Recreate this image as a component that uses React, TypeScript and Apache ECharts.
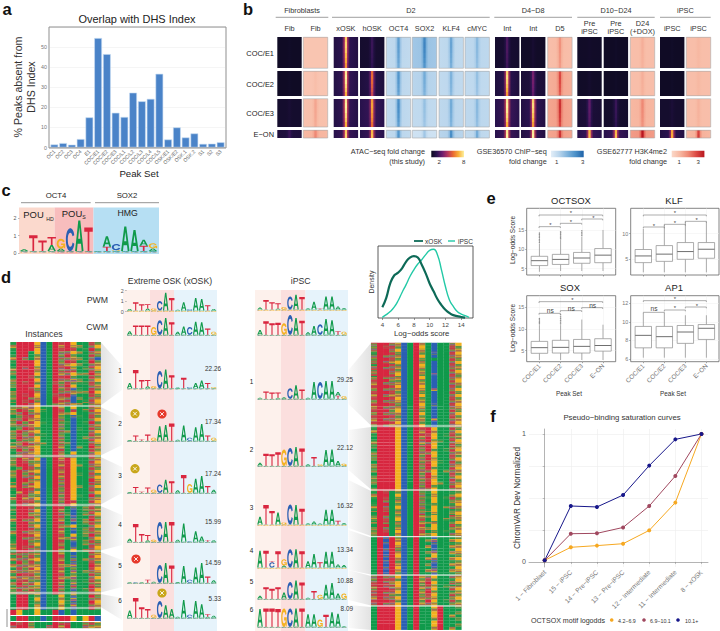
import React, { useEffect, useRef } from "react";
import * as echarts from "echarts";

const FONT = "Liberation Sans";
const TEXT_SCALE = 1.18;

// ---------- panel a
const DHS_LABELS = ["OC1","OC2","OC3","OC4","E1","COC/E1","COC/E2","COC/E3","COC/L1","COC/L2","COC/L3","COC/L4","COC/L5","OSK/E1","OSK/E2","OSK.1","OSK.2","S1","S2","S3"];
const DHS_VALUES = [1.5,2.2,1.4,4.2,15,54.5,46.5,17.3,15.2,27.3,23,24.2,36.7,4,10,5,7,1.8,1.9,2.6];

// ---------- panel b: [background, centre] intensity per column (rows: E1, E2, E3, E-ON)
const HEAT_KINDS = ["atac","red","atac","atac","blue","blue","blue","blue","atac","atac","red","atac","atac","red","atac","red"];
const HEAT_FIB_A = [[.02,.03],[.02,.03],[.05,.07],[.1,.2]];
const HEAT_FIB_R = [[.15,.15],[.15,.2],[.18,.35],[.25,.5]];
const HEAT_XOSK = [[.12,.9],[.13,.98],[.13,.98],[.15,.9]];
const HEAT_HOSK = [[.05,.2],[.1,.65],[.15,.78],[.15,.85]];
const HEAT_OCT4 = [[.2,.65],[.2,.7],[.2,.75],[.2,.7]];
const HEAT_SOX2 = [[.35,.8],[.25,.55],[.2,.4],[.12,.35]];
const HEAT_KLF4 = [[.2,.6],[.2,.5],[.22,.55],[.25,.75]];
const HEAT_CMYC = [[.22,.45],[.2,.4],[.22,.45],[.2,.55]];
const HEAT_INT1 = [[.05,.25],[.1,.92],[.15,.98],[.15,.98]];
const HEAT_INT2 = [[.03,.06],[.08,.35],[.12,.92],[.12,.98]];
const HEAT_D5 = [[.2,.45],[.3,.75],[.35,.85],[.35,.85]];
const HEAT_PRE1 = [[.03,.04],[.03,.05],[.07,.3],[.15,.85]];
const HEAT_PRE2 = [[.02,.03],[.02,.03],[.04,.2],[.15,.85]];
const HEAT_D24 = [[.2,.3],[.2,.3],[.25,.5],[.4,1]];
const HEAT_IPSC1 = [[.02,.03],[.02,.03],[.05,.08],[.12,.8]];
const HEAT_IPSC2 = [[.2,.25],[.2,.25],[.2,.28],[.25,.8]];
const HEAT_TABLE = [HEAT_FIB_A,HEAT_FIB_R,HEAT_XOSK,HEAT_HOSK,HEAT_OCT4,HEAT_SOX2,HEAT_KLF4,HEAT_CMYC,HEAT_INT1,HEAT_INT2,HEAT_D5,HEAT_PRE1,HEAT_PRE2,HEAT_D24,HEAT_IPSC1,HEAT_IPSC2];
const PEAK_ROWS = ["COC/E1","COC/E2","COC/E3","E−ON"];

// ---------- logos: a stack per position, bottom to top, letter + information bits
const LOGO_C = ["A.1","T.9","T.6","A.35T.45","A.15G.55","C1.3","A1.75","T1.35",".","T.25A.6","G.05C.35","A1.4","A1.2","T.3A.35","A.15G.3"];
const X_PWM = ["A.15","T.8","T.6","A.2T.4","G.2","C.9","A1.7","T1.2","A.08","A.8","C.12","A1.2","A1.1","T.5","A.15"];
const X_CWM = ["A.35","T.9","T.9","T.9","G.75","C1.4","A1.6","T1.2","A.3","A.8","C.75","A1.25","A1.2","T.6","G.3"];
const X_1 = ["A.5","T1.75","T.8","A.2T.6","G.2","C1.65","A1.8","T1.25","A.08","T1","C.1","A.5","A.75","T.5","G.1"];
const X_2 = ["A.07","T.5","T.12","T.6","G.3","A1.4","A1.5","T1.65","A.1","A1.45","C.3","A1.3","A1.6","T.5","G.3"];
const X_3 = ["A.07","T.55","T.1","T.5","G.3","C.8","A1.25","T1.1","A.25","T1.7","G.85","A1.35","A1.6","T.65","A.3"];
const X_4 = ["A.3","T1.7","T.75","A.15T.5","G.2","C1.9","A1.9","T1.9","A.2","A1.75","C.05","A1","A.5","T.15","A.15"];
const X_5 = ["A.05","C.05","A.05","T.3","A.1","C1.7","A1.9","T1.65","A.08","A1.6","C.3","A1.45","A1.9","T.6","A.25"];
const X_6 = ["A.7","T1.9","T1","T.85","G.3","C1.6","A1.2","A.85","A.1","A1.7","C.3","A1.6","A1.3","A.1T.25","A.2"];
const I_PWM = ["A.2","T.9","T.7","A.1T.5","G.25","C1.25","A1.4","T1.2","A.12","A.75","T.1","A1.25","A1.25","A.3","A.15"];
const I_CWM = ["A.45","T1.3","T1.1","T1.15","G1.1","C1.9","A1.6","T1.35","A.25","A.85","C1","A1.5","A1.4","T.35","G.3"];
const I_1 = ["A.1","T.7","T.6","A.1T.5","A.15","C1","A1.3","T.9","A.1","A1.6","C1.6","A1.7","A1.7","T.3A.35","G.25"];
const I_2 = ["A.3","T1.15","T1.1","T1.3","G1.55","C1.7","A1.8","T1.65","A.15","T.85","G.15","A1.5","A1.55","A.45","G.2"];
const I_3 = ["A.75","T1.85","T1.3","A1.15","G.2","C1.9","A1.85","T1.5","A.12","A.3","A.1","A1.4","A1.4","T.35","A.15"];
const I_4 = ["A1.6","T1.6","C.5T.1","T1.55","A.2G.6","C1.75","A1.75","T1.55","A.6","A1.3","T.5","A1.5","A1.5","A.3","A.25"];
const I_5 = ["A.3","T1.1","T.95","T1.1","A.6","C1.6","A1.75","T1.55","A.1","T.75","G.4","A1.35","A1.5","A.5","G.5"];
const I_6 = ["A1.7","T1.75","T1.75","T1.7","G1.75","C1.75","A1.75","T1.75","A1.2","A1.2","G.7","T1.15","A1.4","A1.25","A.05"];

// ---------- instances: one string per row, one code per motif position
const INST_X = [
"zTTTGCATyTGAAyx","xTTTxCATxTxzAyG","zTTTGCATyTyAzTx","ATTAGCATyyGzAyx","zTTAxCATxTxAAyx","xTyAxCATyyxzAyC","zTTTGCATxTyAzTx",
"ATTTGCATyxGzAyx","zTyTxCATyTxAzyG","xTTTxCATyyyAAyx","zTTTGCATxyGzzTx","ATTyxCATyTxAAyx","zTTTGCATyywzAyG","xTyTxCAyxyxzzyx",
"zTTTGCATyTGAAyx","ATTyxCATxywzAyx","zTTTxCATyyxzzTG","xTyTGCAyyTwAAyx","zTTyxCATxyCzAyx","zTyTxCATyyCAzyG","ATTyGCAyxyxzAyx",
"zyxyGAATxAGAAyx","xTyxGzATyAyAzyG","zyTyxAATxzGAAyx","AxyyGAATxAwzAyx","zyTxxAATyACAAyG","xTxyGzATxzCAzTx","zyyxGAATyACAAyx","AxTyxAATxACzAyx",
"zTyxGAATyzCAAyG","xyxyxzATxACAAyx","zTyyGAATyACAzyx","AyxxGAATxACAAyG","zxTyxzATyzCAAyx","xyyxGAATxACzATx","zTxyGAATyACAAyx","AyyxGAATxAGAAyG","zxTyxAATyzwAAyx",
"zTxyGCATxTGAAyx","xTyxxCATyTGAAyG","zTTyGCATxTGzAyx","AxTyxCATyTGAAyx","zTyxGCATxTGAAyG","xTxyxCATyTGzAyx","zTyyGCATxTGAAyG","ATTxxCATyTGAATx",
"zTxyGCATxTGAAyx","xTyxGCATyTGzAyG","zTTyxCATxTGAAyx","AxTyGCATyTGAAyG","zTyxxCATxTGzATx","xTxyGCATyTGAAyx","zTyyxCATxTyAAyG","ATyxGCATyTGAAyx",
"zTTyxCATyAwAxyx","zTTyGCATxACAzyx","ATTxxCATyzCAxyG","zTTyxCATyAwAAyx","xTyyGCATxAwAzTx","zTTxxCATyACAxyx","ATTyGCATxzGAAyG","zTTyxCATyAwAxyx",
"xTyxxCATxACAzyx","zTTyGCATyAGAxTx","ATyyxCATxzwAAyG","zTTxxCATyAwAxyx","zTTyGCATxACAzyx","xTyyxCATyAwAAyG","zTTyxCATxAGAxyx",
"xyyxxCATxACAAyx","zyxyxCATyAwAAyG","xyyxGCATxAyAzyx","zTxyxCATyAwAAyx","xyyxxCATxzwAATx","zyxyGCATyAxAAyG","xyyxxCATxAwAzyx","zTyyxCATyAxAAyx",
"xyxyxCATxzwAAyG","zyyxxCATyAxAzyx","xTxyGCATxAwAAyx","zyyxxCATyAyAATx","xyxyxCATxAwAzyG","zyyxxCATyAxAAyx",
"ATTAxCAAGAwAATx","ATTAGCAAxAwAAyx","ATTAxCAAGzwAATG","ATTAxCAAxAwAAyx","ATTAGCAAGAwAATx",
"TGAAGAATCACAAAA","TGAAGAATCACAAAA",
"ATTAACATTTGAGTC","ATTAACATTTGAGTC",
"TyTxAAATyyAAxyx","yTTxAAyTxTAAyxx",
];
const INST_I = [
"yTTyxCATxACAAyG","xTyyxCATGACAAyx","yTTyGCATxACAAyx","zTTyxCATxAwAAyG","yTyyxCATGACAAyx","xTTyxCATxAAAAyx","yTyxGCATxACAAyG",
"zTTyxCATGACAAyx","yTyyxCATxACAAyx","xTTyxCATxACAAyG","yTTyGCATxAwAAyx","zTyyxCATGACAAyx","yTTxxCATxACAAyG","xTyyxCATxACAAyx",
"yTTyGCATGACAAyx","zTyyxCATxAwAAyG","yTTyxCATxACAAyx","xTyxxCATGACAAyG","yTTyGCATxACAAyx","zTyyxCATxACAAyx","yTTyxCATGAwAAyG",
"xTyyxCATxACAAyx","yTTxGCATxACAAyx","zTyyxCATGACAAyG","yTTyxCATxACAAyx","xTyyxCATxAwAAyx","yTTyGCATxACAAyG","zTyxxCATGACAAyx",
"zTTTGCATyTGAAyx","xTTTGCATxTxAAyG","zTTTGCATyyGAzyx","ATTTGCATxTGAAyx","zTTTGCATyTxzAyG","xTTTGCATxyGAAyx","zTTTGCATyTGAAyx",
"ATTTGCATxTxAzyG","zTTTGCATyyGAAyx","xTTTGCATxTGAAyx","zTTTGCATyTxAAyG","ATTTGCATxyGzAyx","zTTTGCATyTGAAyx","xTTTGCATxTxAAyG",
"zTTTGCATyyGAzyx","ATTTGCATxTGAAyx","zTTTGCATyTxAAyG","xTTTGCATxyGAAyx","zTTTGCATyTGzAyx","ATTTGCATxTxAAyG","zTTTGCATyyGAAyx",
"zTyAxCATxzGAAzx","xTTAGCATyAxAAzG","zTyAxCATxzGAzyx","ATyAxCATyAGAAzx","zTTAxCATxzxAAzG","xTyAGCATyAGAzyx","zTyAxCATxzGAAzx","ATTAxCATyAxAAzG",
"zTyAxCATxzGAAyx","xTyAGCATyAGAzzx","zTyAxCATxzxAAzG","ATTAxCATyAGAAyx","zTyAxCATxzGAAzx","xTyAGCATyAxAzzG","zTTAxCATxzGAAyx",
"ATwTxCATAAwAAzx","ATCTxCATAzwAAxG","ATwTGCATAAwAAzx","ATCTxCATAxCAAxx","ATwTxCATAAwAAzG","ATCTxCATAzwAAxx","ATwTGCATAAGAAzx",
"ATCTxCATAxwAAxG","ATwTxCATAAwAAzx","ATCTxCATAzCAAxx","ATwTGCATAAwAAzG","ATCTxCATAxwAAxx","ATwTxCATAAwAAzx",
"yTyyGCATxyGAAyx","xTyyxCATxyxAAzG","yTyxGCATxTGAAyx","yTyyGCATxyxAzzx","xTTyxCATxyGAAyG","yTyyGCATxTxAAzx","yTyxxCATxyGAAyx",
"xTyyGCATxyxAAzG","yTTyxCATxTGAzyx","yTyyGCATxyxAAzx",
"ATTTGCATAAGTAAx","ATTTGCATAAxTAAA","ATTTGCATAAGTAAx","ATTTGCATAAGTAxA","ATTTGCATAAxTAAx","ATTTGCATAAGTAAA","ATTTGCATAAGTAAx","ATTTGCATAAxTAxA",
];

// ---------- panel d: density curves
const DENS_X_OSK = [[4,.15],[4.5,.28],[5,.48],[5.5,.59],[6,.63],[6.5,.69],[7,.78],[7.5,.84],[8,.86],[8.5,.84],[9,.74],[9.5,.62],[10,.48],[10.5,.37],[11,.26],[11.5,.18],[12,.115],[12.5,.07],[13,.04],[14,.014],[14.5,.005]];
const DENS_IPSC = [[4,.01],[4.5,.046],[5,.09],[5.5,.15],[6,.24],[6.5,.355],[7,.46],[7.5,.576],[8,.67],[8.5,.75],[9,.81],[9.5,.88],[10,.94],[10.5,.954],[11,.876],[11.5,.668],[12,.438],[12.5,.253],[13,.16],[13.5,.09],[14,.055],[14.5,.032],[15,.01]];

// ---------- panel e: [low, q1, median, q3, high]
const BOX_CATS = ["COC/E1","COC/E2","COC/E3","E−ON"];
const BOX_OCTSOX = [[4.2,5.8,7.07,8.2,11.5],[4.4,6.1,7.4,8.7,12.4],[4.4,6.4,7.76,9.2,13.3],[4.4,6.55,8.5,10.2,15]];
const BOX_KLF = [[2.47,4.35,5.65,6.9,10.9],[2.47,4.6,6,7.66,11.7],[2.47,5,6.5,8.25,12.3],[2.47,5.2,6.95,8.25,12.3]];
const BOX_SOX = [[2.85,4.4,5.7,7.15,10.9],[2.85,4.46,5.77,7.4,10.9],[2.85,4.46,6,7.6,12.2],[2.85,4.9,6.2,7.77,11]];
const BOX_AP1 = [[6.14,7.2,8.54,9.5,10.9],[6.14,7.2,8.4,9.5,10.9],[6.14,7.68,8.9,9.6,10.7],[6.14,8.1,9.3,9.7,10.7]];
const OUT_OCTSOX = [[1,11.8],[1,12.2],[1,12.6],[1,13],[1,13.4],[1,13.8],[1,14.2],[2,12.7],[2,13],[2,13.4],[2,13.8],[2,14.2],[2,14.5],[3,13.6],[3,14],[3,14.4],[3,14.8]];
const OUT_SOX = [[1,11.2],[1,11.5],[1,11.8],[1,12.1],[1,12.4],[2,11.2],[2,11.6],[2,12],[2,12.4],[2,12.8],[2,13.3]];

// ---------- panel f
const SAT_LABELS = ["1 − Fibroblast","15 − iPSC","14 − Pre−iPSC","13 − Pre−iPSC","12 − Intermediate","11 − Intermediate","8 − xOSK"];
const SAT_LOW = [.013,.115,.128,.143,.247,.464,1];
const SAT_MID = [.013,.221,.224,.27,.4375,.672,1];
const SAT_HIGH = [.013,.4375,.43,.523,.753,.958,1];

// ---------- layout and style (not data)
const COL_X = [277.3,303.3,333.7,360,386.3,412.3,439,465,495,521,547.7,577.3,603.7,630.3,660,686.3];
const COL_W = 24.4;
const ROW_TOP = [37.3,71.3,98.7,130.3];
const ROW_H = [31,24.4,28.3,7.7];
const SUB_FADE = [1,1.03,1,.95,.9,.82];
const STOP_AT = [0,.34,.44,.47,.53,.56,.66,1];
const STOP_WEIGHT = [0,.06,.45,1,1,.45,.06,0];
const RAMPS: any = {
  atac: ["#0c0a1f","#2a1350","#6c1d6e","#b5365e","#ea6b32","#f9b13a","#fdf0a0"],
  blue: ["#e3eef8","#b9d5ec","#7fb3dc","#4a90c8","#1f62a8"],
  red: ["#fbd8c8","#f7b8a2","#ef8a76","#dc4a44","#b8161f"],
};
const LETTER_COLORS: any = { A: "#109a4b", C: "#2a5fb3", G: "#f4b221", T: "#d9263f" };
const GLYPHS: any = {
  T: "M0 0H100V18H60V100H40V18H0Z",
  A: "M38 0H62L100 100H78L70 76H30L22 100H0Z M50 22L37 60H63Z",
  C: "M95 30C90 10 70 0 50 0C20 0 0 22 0 50C0 78 20 100 50 100C72 100 90 88 96 68L76 62C72 74 62 81 50 81C32 81 22 67 22 50C22 33 32 19 50 19C62 19 71 25 75 35Z",
  G: "M95 30C90 10 70 0 50 0C20 0 0 22 0 50C0 78 20 100 50 100C65 100 78 94 86 84L88 98H100V48H52V65H80C78 74 66 81 50 81C32 81 22 67 22 50C22 33 32 19 50 19C62 19 71 25 75 35Z",
};
const SOLID: any = { A: "#109a4b", C: "#2a5fb3", G: "#f2b11f", T: "#d7263f" };
const STRIPES: any = {
  x: ["#5f9a45","#b0803f","#8d8f3a","#c9a233","#5a8f4a","#a8704a"],
  y: ["#c43c46","#a8664a","#c8404a","#7a8f4a","#b8504a","#8c6a7a"],
  z: ["#2f9a4a","#6e9a45","#1e9a4c","#a8883f","#3a9a4a","#7a8f4a"],
  w: ["#5a6aa8","#a85a6a","#3a65ac","#c9a233","#6a7a6a","#8a5f88"],
};
const LETTERS = ["A", "C", "G", "T"];
const CODES = ["A", "C", "G", "T", "x", "y", "z", "w"];

const stripeCache: any = {};
function stripeFill(code: string, phase: number) {
  const key = code + phase;
  if (!stripeCache[key]) {
    const cols = STRIPES[code];
    const n = cols.length;
    const stops: any[] = [];
    cols.forEach((_: string, i: number) => {
      const color = cols[(i + phase) % n];
      stops.push({ offset: i / n, color }, { offset: (i + 1) / n, color });
    });
    stripeCache[key] = new echarts.graphic.LinearGradient(0, 0, 0, 1, stops);
  }
  return stripeCache[key];
}

function hexRgb(h: string) { return [1, 3, 5].map((i) => parseInt(h.slice(i, i + 2), 16)); }
function rampColor(kind: string, v: number) {
  const r = RAMPS[kind];
  const t = Math.max(0, Math.min(1, v)) * (r.length - 1);
  const i = Math.min(r.length - 2, Math.floor(t));
  const a = hexRgb(r[i]), b = hexRgb(r[i + 1]);
  const c = a.map((q, k) => Math.round(q + (b[k] - q) * (t - i)));
  return `rgb(${c[0]},${c[1]},${c[2]})`;
}

function buildOption() {
  const grid: any[] = [], xAxis: any[] = [], yAxis: any[] = [], series: any[] = [], g: any[] = [];
  const add = (gr: any, xa: any, ya: any) => {
    grid.push(gr);
    const i = grid.length - 1;
    xAxis.push({ gridIndex: i, ...xa });
    yAxis.push({ gridIndex: i, ...ya });
    return i;
  };
  const txt = (text: string, x: number, y: number, o: any = {}) =>
    g.push({
      type: "text", x, y, rotation: o.rot || 0, z: 20,
      style: {
        text, fontSize: (o.size || 6) * TEXT_SCALE, fontFamily: FONT, fontWeight: o.weight || "normal", fill: o.color || "#222",
        align: o.align || "center", verticalAlign: "middle", textAlign: o.align || "center", textVerticalAlign: "middle",
      },
    });
  const rect = (x: number, y: number, w: number, h: number, style: any, z = 0) =>
    g.push({ type: "rect", shape: { x, y, width: w, height: h }, style, z, silent: true });
  const line = (pts: number[][], color: string, width: number, z = 20) =>
    g.push({ type: "polyline", shape: { points: pts }, style: { stroke: color, lineWidth: width, fill: "none" }, z, silent: true });

  // panel letters
  [["a",7,9],["b",248,9],["c",6,190],["d",6,277],["e",491,198],["f",493,416]].forEach(([t,x,y]: any) => txt(t, x, y, { size: 14, weight: "bold", color: "#111" }));

  // ---- a
  rect(49, 27, 177, 121, { fill: "none", stroke: "#8f8f8f", lineWidth: 1 }, 20);
  add({ left: 50, top: 27, width: 175, height: 120.5 },
    { type: "category", data: DHS_LABELS, axisLine: { lineStyle: { color: "#aaa", width: 0.5 } }, axisTick: { length: 2, alignWithLabel: true, lineStyle: { color: "#999" } }, axisLabel: { interval: 0, rotate: 45, fontSize: 4.3, color: "#666", margin: 3, fontFamily: FONT } },
    { type: "value", min: 0, max: 60, interval: 10, axisLine: { show: false }, axisTick: { length: 2, lineStyle: { color: "#999" } }, axisLabel: { fontSize: 4.5, color: "#777", margin: 3, fontFamily: FONT, formatter: (v: number) => (v === 60 ? "" : String(v)) }, splitLine: { lineStyle: { color: "#efefef", width: 0.6 } } });
  series.push({ type: "bar", xAxisIndex: 0, yAxisIndex: 0, data: DHS_VALUES, barWidth: "88%", itemStyle: { color: "#4a83c8", borderColor: "#c6dcf1", borderWidth: 0.6 } });
  txt("Overlap with DHS Index", 137, 19, { size: 9.3 });
  txt("% Peaks absent from", 18, 87, { size: 9, rot: Math.PI / 2, color: "#333" });
  txt("DHS Index", 31, 87, { size: 9, rot: Math.PI / 2, color: "#333" });
  txt("Peak Set", 139, 173.5, { size: 8.2 });

  // ---- b heat tiles
  const hb = add({ left: 0, top: 0, width: 720, height: 631 },
    { type: "value", min: 0, max: 720, show: false }, { type: "value", min: 0, max: 631, inverse: true, show: false });
  const tiles: number[][] = [];
  HEAT_TABLE.forEach((rows, c) => rows.forEach((v, r) => {
    const n = r === 3 ? 2 : SUB_FADE.length;
    for (let s = 0; s < n; s++) tiles.push([c, r, s, n, v[0], v[0] + (v[1] - v[0]) * SUB_FADE[s]]);
  }));
  series.push({
    type: "custom", xAxisIndex: hb, yAxisIndex: hb, data: tiles, coordinateSystem: "cartesian2d", encode: { x: 0, y: 1 }, clip: false,
    renderItem: (_: any, api: any) => {
      const c = api.value(0), r = api.value(1), s = api.value(2), n = api.value(3), bg = api.value(4), ce = api.value(5);
      const h = ROW_H[r] / n;
      const p0 = api.coord([COL_X[c], ROW_TOP[r] + s * h]);
      const p1 = api.coord([COL_X[c] + COL_W, ROW_TOP[r] + (s + 1) * h]);
      const y0 = Math.round(p0[1]), y1 = Math.round(p1[1]);
      const kind = HEAT_KINDS[c];
      const stops = STOP_AT.map((o, i) => ({ offset: o, color: rampColor(kind, bg + (ce - bg) * STOP_WEIGHT[i]) }));
      return { type: "rect", shape: { x: p0[0], y: y0, width: p1[0] - p0[0], height: y1 - y0 }, style: { fill: new echarts.graphic.LinearGradient(0, 0, 1, 0, stops) } };
    },
  });
  COL_X.forEach((x, c) => ROW_TOP.forEach((y, r) => {
    if (HEAT_KINDS[c] !== "atac") rect(x, y, COL_W, ROW_H[r], { fill: "none", stroke: "#a9a9a9", lineWidth: 0.6 }, 10);
  }));
  [["Fibroblasts",275.7,328.3],["D2",332,489.7],["D4−D8",494.3,572],["D10−D24",577.3,654.7],["iPSC",660,710.7]].forEach(([t,a,b]: any) => {
    txt(t, (a + b) / 2, 10.7, { size: 6.2, color: "#333" });
    line([[a, 17.3], [b, 17.3]], "#777", 0.7);
  });
  [["Fib",0],["Fib",1],["xOSK",2],["hOSK",3],["OCT4",4],["SOX2",5],["KLF4",6],["cMYC",7],["Int",8],["Int",9],["D5",10],["iPSC",14],["iPSC",15]].forEach(([t,c]: any) => txt(t, COL_X[c] + COL_W / 2, 28, { size: 6.2, color: "#333" }));
  [["Pre",11,"iPSC"],["Pre",12,"iPSC"],["D24",13,"(+DOX)"]].forEach(([a,c,b]: any) => {
    txt(a, COL_X[c] + COL_W / 2, 23.3, { size: 6.2, color: "#333" });
    txt(b, COL_X[c] + COL_W / 2, 31.7, { size: 6.2, color: "#333" });
  });
  PEAK_ROWS.forEach((t, r) => txt(t, 274, ROW_TOP[r] + ROW_H[r] / 2 + (r === 3 ? 0 : 1), { size: 6.3, align: "right", color: "#222" }));
  const cbar = (x: number, kind: string, t1: string, t2: string, lx: number, a: string, ax: number, b: string, bx: number) => {
    const r = RAMPS[kind];
    rect(x, 150.7, 32.7, 6.6, { fill: new echarts.graphic.LinearGradient(0, 0, 1, 0, r.map((c: string, i: number) => ({ offset: i / (r.length - 1), color: c }))) }, 5);
    txt(t1, lx, 151.7, { size: 6.2, align: "right", color: "#333" });
    txt(t2, lx, 161, { size: 6.2, align: "right", color: "#333" });
    txt(a, ax, 161.5, { size: 5.2, color: "#333" });
    txt(b, bx, 161.5, { size: 5.2, color: "#333" });
  };
  cbar(431.3, "atac", "ATAC−seq fold change", "(this study)", 425, "2", 439.3, "8", 463.7);
  cbar(551, "blue", "GSE36570 ChIP−seq", "fold change", 546.7, "1", 556.7, "3", 582.7);
  cbar(671.7, "red", "GSE62777 H3K4me2", "fold change", 667, "1", 679.3, "3", 698.3);

  // ---- logos
  const addLogo = (cols: string[], x0: number, base: number, colW: number, bit: number, ticks = false) => {
    const i = add({ left: x0, top: base - 2 * bit, width: 15 * colW, height: 2 * bit },
      { type: "value", min: 0, max: 15, show: false },
      ticks
        ? { type: "value", min: 0, max: 2, interval: 1, axisLine: { show: false }, axisTick: { show: true, length: 1.5, lineStyle: { color: "#777", width: 0.5 } }, axisLabel: { fontSize: 4.5, color: "#555", margin: 3, fontFamily: FONT }, splitLine: { show: false } }
        : { type: "value", min: 0, max: 2, show: false });
    const data: number[][] = [];
    cols.forEach((stack, c) => {
      let y = 0;
      // faint letters that every position carries at its foot
      [["G", .035], ["C", .035], ["A", .04]].forEach(([l, h]: any) => { data.push([c, y, y + h, LETTERS.indexOf(l)]); y += h; });
      (stack.match(/[ACGT]\d*\.?\d+/g) || []).forEach((m) => {
        const h = parseFloat(m.slice(1));
        data.push([c, y, y + h, LETTERS.indexOf(m[0])]);
        y += h;
      });
    });
    series.push({
      type: "custom", xAxisIndex: i, yAxisIndex: i, data, encode: { x: 0, y: 1 }, clip: false, z: 3,
      renderItem: (_: any, api: any) => {
        const c = api.value(0), y0 = api.value(1), y1 = api.value(2), l = LETTERS[api.value(3)];
        const p0 = api.coord([c + 0.04, y0]), p1 = api.coord([c + 0.96, y1]);
        return { type: "path", shape: { pathData: GLYPHS[l], x: p0[0], y: p1[1], width: p1[0] - p0[0], height: p0[1] - p1[1], layout: "cover" }, style: { fill: LETTER_COLORS[l] } };
      },
    });
  };

  // c
  rect(19, 207.6, 35.5, 46.4, { fill: "#fbd9cd" });
  rect(54.5, 207.6, 39, 46.4, { fill: "#f8bdbd" });
  rect(93.5, 207.6, 65.5, 46.4, { fill: "#b6dff3" });
  addLogo(LOGO_C, 19.5, 253, 9.2, 17.5, true);
  txt("OCT4", 56, 195.7, { size: 6.6 });
  txt("SOX2", 127, 195.7, { size: 6.6 });
  line([[21, 202.7], [90.7, 202.7]], "#777", 0.8);
  line([[95, 202.7], [159, 202.7]], "#777", 0.8);
  txt("POU", 33.5, 214, { size: 8 });
  txt("HD", 50, 218.5, { size: 4.4 });
  txt("POU", 72, 213, { size: 8 });
  txt("S", 84, 217, { size: 4.4 });
  txt("HMG", 127.7, 212.7, { size: 7.4 });

  // d logo backdrops
  rect(123, 290, 27, 341, { fill: "#fdf1ec" });
  rect(150, 290, 24, 341, { fill: "#fbdfde" });
  rect(174, 290, 43, 341, { fill: "#e6f3fb" });
  rect(255, 290, 26, 341, { fill: "#fdf1ec" });
  rect(281, 290, 24.5, 341, { fill: "#fbdfde" });
  rect(305.5, 290, 42.5, 341, { fill: "#e6f3fb" });
  addLogo(X_PWM, 126.7, 311.7, 6, 10.5, true);
  addLogo(X_CWM, 126.7, 336, 6, 10.5);
  [[X_1,389.5],[X_2,442],[X_3,494],[X_4,543],[X_5,584],[X_6,619]].forEach(([l,b]: any) => addLogo(l, 126.7, b, 6, 10.5));
  addLogo(I_PWM, 257, 310.7, 6, 10.5);
  addLogo(I_CWM, 257, 336, 6, 10.5);
  [[I_1,400],[I_2,467],[I_3,525.7],[I_4,568.7],[I_5,600],[I_6,628]].forEach(([l,b]: any) => addLogo(l, 257, b, 6, 10.5));
  txt("Extreme OSK (xOSK)", 170, 280.7, { size: 7.4, color: "#333" });
  txt("iPSC", 300.7, 280.7, { size: 7.4, color: "#333" });
  txt("Instances", 44, 333.7, { size: 7.4, color: "#333" });
  txt("PWM", 108, 299.7, { size: 7.4, align: "right", color: "#333" });
  txt("CWM", 108, 327, { size: 7.4, align: "right", color: "#333" });
  [["1",370,"22.26",368],["2",423,"17.34",421],["3",475.5,"17.24",473],["4",524,"15.99",521],["5",565,"14.59",562],["6",600,"5.33",598]].forEach(([n,y,v,vy]: any) => {
    txt(n, 120, y, { size: 5.4 });
    txt(v, 221, vy, { size: 5.4, align: "right", color: "#333" });
  });
  [["1",381,"29.25",379],["2",449,"22.12",447],["3",507,"16.32",505],["4",550,"13.34",549],["5",581,"10.88",580],["6",609,"8.09",608]].forEach(([n,y,v,vy]: any) => {
    txt(n, 251.5, y, { size: 5.4 });
    txt(v, 353, vy, { size: 5.4, align: "right", color: "#333" });
  });
  // removed-motif badges
  const badge = (x: number, y: number, color: string) => {
    g.push({ type: "circle", shape: { cx: x, cy: y, r: 4.6 }, style: { fill: color }, z: 21 });
    line([[x - 1.8, y - 1.8], [x + 1.8, y + 1.8]], "#fff", 0.9, 22);
    line([[x - 1.8, y + 1.8], [x + 1.8, y - 1.8]], "#fff", 0.9, 22);
  };
  badge(135, 413.7, "#c9a61a"); badge(162, 414, "#e6392b"); badge(135, 468.7, "#c9a61a"); badge(136, 559, "#e6392b"); badge(162, 593, "#c9a61a");

  // instances heatmaps
  const addInst = (rows: string[], x0: number, top: number, h: number, cuts: number[]) => {
    const i = add({ left: x0, top, width: 90.4, height: h },
      { type: "value", min: 0, max: 15, show: false }, { type: "value", min: 0, max: rows.length, inverse: true, show: false });
    const data: number[][] = [];
    rows.forEach((row, r) => row.split("").forEach((ch, c) => data.push([c, r, CODES.indexOf(ch)])));
    series.push({
      type: "custom", xAxisIndex: i, yAxisIndex: i, data, encode: { x: 0, y: 1 }, clip: false,
      renderItem: (_: any, api: any) => {
        const c = api.value(0), r = api.value(1), code = CODES[api.value(2)];
        const p0 = api.coord([c, r]), p1 = api.coord([c + 1, r + 1]);
        const fill = SOLID[code] || stripeFill(code, (r * 5 + c * 2) % 6);
        return { type: "rect", shape: { x: p0[0], y: p0[1], width: p1[0] - p0[0] + 0.2, height: p1[1] - p0[1] + 0.2 }, style: { fill } };
      },
    });
    cuts.forEach((y) => line([[x0, y], [x0 + 90.4, y]], "#fff", 1, 15));
  };
  addInst(INST_X, 10.3, 342, 286, [406, 456, 505, 551, 593, 608, 615.5, 621.5]);
  addInst(INST_I, 371, 342.7, 287, [426, 490, 536.7, 575, 606]);
  line([[7, 609], [7, 627]], "#777", 0.8);
  // cluster fans
  const fan = (xa: number, ya: number, yb: number, xb: number, yc: number, yd: number, leftIsHeat: boolean) =>
    g.push({
      type: "polygon", shape: { points: [[xa, ya], [xb, yc], [xb, yd], [xa, yb]] }, z: 1, silent: true,
      style: { fill: new echarts.graphic.LinearGradient(0, 0, 1, 0, leftIsHeat ? [{ offset: 0, color: "#e2e2e2" }, { offset: 1, color: "#fafafa" }] : [{ offset: 0, color: "#fafafa" }, { offset: 1, color: "#e2e2e2" }]) },
    });
  [[342,405.5,366,390],[407,455.5,417,445],[457,504.5,467,493],[506,550.5,515,545],[552,592.5,560,587],[594,607,598,620]].forEach(([a,b,c,d]) => fan(100.7, a, b, 122, c, d, true));
  [[343,425.5,370,404],[427,489.5,430,470],[491,536,480,528],[537.5,574.5,530,570],[576,605.5,570,600],[607,630,605,628]].forEach(([a,b,c,d]) => fan(371, a, b, 348.5, c, d, false));

  // density
  const den = add({ left: 378, top: 246, width: 95, height: 72, show: true, borderColor: "#333", borderWidth: 0.8 },
    { type: "value", min: 3.45, max: 15.5, axisLine: { show: false }, axisTick: { length: 2, customValues: [4,6,8,10,12,14], lineStyle: { color: "#555", width: 0.6 } }, axisLabel: { customValues: [4,6,8,10,12,14], fontSize: 5.2, color: "#444", margin: 3, fontFamily: FONT }, splitLine: { show: false } },
    { type: "value", min: 0, max: 1, show: false });
  series.push({ type: "line", xAxisIndex: den, yAxisIndex: den, data: DENS_IPSC, smooth: true, showSymbol: false, lineStyle: { color: "#22c9a6", width: 1.4 } });
  series.push({ type: "line", xAxisIndex: den, yAxisIndex: den, data: DENS_X_OSK, smooth: true, showSymbol: false, lineStyle: { color: "#0d6a57", width: 2.2 } });
  line([[414, 241], [423, 241]], "#0d6a57", 1.8);
  txt("xOSK", 425, 241, { size: 5.6, align: "left", color: "#333" });
  line([[448, 241], [455, 241]], "#22c9a6", 1.4);
  txt("iPSC", 458, 241, { size: 5.6, align: "left", color: "#333" });
  txt("Log−odds score", 421.7, 333, { size: 6.6, color: "#333" });
  txt("Density", 371, 282, { size: 5.8, rot: Math.PI / 2, color: "#333" });

  // ---- e
  const zx = (v: number) => 485 + v / 3, zy = (v: number) => 165 + v / 3;
  const addBox = (box: number[][], out: number[][], left: number, top: number, w: number, h: number, ymin: number, ymax: number, ticks: number[], labels: boolean) => {
    const i = add({ left, top, width: w, height: h, show: true, borderColor: "#666", borderWidth: 0.8 },
      { type: "value", min: 0.4, max: 4.6, axisLine: { show: false }, axisTick: { length: 1.5, customValues: [1,2,3,4], lineStyle: { color: "#555", width: 0.5 } },
        axisLabel: { show: labels, customValues: [1,2,3,4], rotate: 45, fontSize: 5.4, color: "#777", margin: 3, fontFamily: FONT, formatter: (v: number) => BOX_CATS[v - 1] },
        splitLine: { show: true, lineStyle: { color: "#eee", width: 0.5 } } },
      { type: "value", min: ymin, max: ymax, axisLine: { show: false }, axisTick: { length: 1.5, customValues: ticks, lineStyle: { color: "#555", width: 0.5 } },
        axisLabel: { customValues: ticks, fontSize: 4.6, color: "#777", margin: 2.5, fontFamily: FONT },
        splitLine: { show: true, lineStyle: { color: "#eee", width: 0.5 } } });
    const s = "#8a8a8a";
    series.push({
      type: "custom", xAxisIndex: i, yAxisIndex: i, data: box.map((b, k) => [k + 1, ...b]), encode: { x: 0, y: [1, 2, 3, 4, 5] },
      renderItem: (_: any, api: any) => {
        const x = api.value(0), bw = 0.39;
        const pt = (dx: number, d: number) => api.coord([x + dx, api.value(d)]);
        const ln = (a: number[], b: number[], width: number, color = s) => ({ type: "line", shape: { x1: a[0], y1: a[1], x2: b[0], y2: b[1] }, style: { stroke: color, lineWidth: width } });
        const q3 = pt(-bw, 4), q1 = pt(bw, 2);
        return { type: "group", children: [
          ln(pt(0, 1), pt(0, 2), 0.7), ln(pt(0, 4), pt(0, 5), 0.7),
          { type: "rect", shape: { x: q3[0], y: q3[1], width: q1[0] - q3[0], height: q1[1] - q3[1] }, style: { fill: "#fff", stroke: s, lineWidth: 0.7 } },
          ln(pt(-bw, 3), pt(bw, 3), 1, "#6f6f6f"),
        ] };
      },
    });
    if (out.length) series.push({ type: "scatter", xAxisIndex: i, yAxisIndex: i, data: out, symbolSize: 1.4, itemStyle: { color: "#777" } });
  };
  addBox(BOX_OCTSOX, OUT_OCTSOX, 526.7, 208.3, 89, 66.7, 3.37, 20.6, [5,10,15], false);
  addBox(BOX_KLF, [], 630.7, 208.3, 88.3, 66.7, 1.95, 14.9, [5,10], false);
  addBox(BOX_SOX, OUT_SOX, 526.7, 295.7, 89, 66, 2.46, 17.7, [5,10,15], true);
  addBox(BOX_AP1, [], 630.7, 295.7, 88.3, 66, 5.71, 12.8, [6,8,10,12], true);
  [["OCTSOX",571,200.7],["KLF",674,200.7],["SOX",570,287],["AP1",674,287]].forEach(([t,x,y]: any) => txt(t, x, y, { size: 8 }));
  txt("Log−odds Score", 512, 240, { size: 5.6, rot: Math.PI / 2, color: "#333" });
  txt("Log−odds Score", 512, 328, { size: 5.6, rot: Math.PI / 2, color: "#333" });
  txt("Peak Set", 569, 393.3, { size: 5.4, color: "#333" });
  txt("Peak Set", 673, 393.3, { size: 5.4, color: "#333" });
  const bracket = (a: number, b: number, y: number, t: string, tx: number, ty: number) => {
    line([[zx(a), zy(y + 4)], [zx(a), zy(y)], [zx(b), zy(y)], [zx(b), zy(y + 4)]], "#777", 0.6);
    txt(t, zx(tx), zy(ty), { size: t === "*" ? 5 : 5.6, color: "#444" });
  };
  [[162,353,150,"*",258,145],[162,226,185,"*",196,180],[226,290,175,"*",258,170],[290,353,162,"*",325,158],
   [475,664,150,"*",570,145],[475,538,186,"*",507,182],[538,601,178,"*",570,174],[601,664,169,"*",635,165],
   [162,353,410,"*",262,404],[162,226,445,"ns",196,437],[226,290,437,"ns",259,429],[290,353,428,"ns",323,421],
   [475,664,407,"*",570,403],[475,538,442,"ns",507,431],[538,601,435,"*",570,430],[601,664,426,"*",636,422],
  ].forEach(([a,b,y,t,tx,ty]: any) => bracket(a, b, y, t, tx, ty));

  // ---- f
  const fi = add({ left: 529, top: 429, width: 179, height: 138, show: false },
    { type: "value", min: -0.6, max: 6.25, axisLine: { lineStyle: { color: "#888", width: 0.6 } }, axisTick: { length: 2, customValues: [0,1,2,3,4,5,6], lineStyle: { color: "#888", width: 0.5 } },
      axisLabel: { customValues: [0,1,2,3,4,5,6], rotate: 45, fontSize: 5.6, color: "#777", margin: 4, fontFamily: FONT, formatter: (v: number) => SAT_LABELS[v] },
      splitLine: { show: true, lineStyle: { color: "#ececec", width: 0.6 } } },
    { type: "value", min: -0.039, max: 1.039, axisLine: { show: true, lineStyle: { color: "#888", width: 0.6 } }, axisTick: { show: true, length: 2, customValues: [0,.25,.5,.75,1], lineStyle: { color: "#888", width: 0.5 } },
      axisLabel: { customValues: [0,1], fontSize: 6, color: "#555", margin: 3, fontFamily: FONT },
      splitLine: { show: true, lineStyle: { color: "#ececec", width: 0.6 } } });
  [[SAT_LOW,"#f6a821"],[SAT_MID,"#a0485f"],[SAT_HIGH,"#17178a"]].forEach(([vals,color]: any) =>
    series.push({ type: "line", xAxisIndex: fi, yAxisIndex: fi, data: vals.map((v: number, i: number) => [i, v]), symbol: "circle", symbolSize: 4, lineStyle: { color, width: 1 }, itemStyle: { color } }));
  txt("Pseudo−binding saturation curves", 622, 417, { size: 6.6, color: "#333" });
  txt("ChromVAR Dev Normalized", 517, 498, { size: 7, rot: Math.PI / 2, color: "#333" });
  txt("OCTSOX motif logodds", 531, 620.5, { size: 6, align: "left", color: "#333" });
  [[611.7,"#f6a821","4.2−6.9",618],[644,"#a0485f","6.9−10.1",650],[678,"#17178a","10.1+",685]].forEach(([x,c,t,tx]: any) => {
    g.push({ type: "circle", shape: { cx: x, cy: 620, r: 1.8 }, style: { fill: c }, z: 20 });
    txt(t, tx, 620.5, { size: 4.5, align: "left", color: "#333" });
  });

  // axis label sizes share the text scale
  [...xAxis, ...yAxis].forEach((a) => { if (a.axisLabel && a.axisLabel.fontSize) a.axisLabel.fontSize *= TEXT_SCALE; });

  return { animation: false, backgroundColor: "#fff", textStyle: { fontFamily: FONT }, grid, xAxis, yAxis, series, graphic: { elements: g } };
}

export default function App() {
  const ref = useRef<HTMLDivElement>(null);
  useEffect(() => {
    const chart = echarts.init(ref.current!, undefined, { renderer: "svg" });
    chart.setOption(buildOption() as any);
    return () => chart.dispose();
  }, []);
  return <div ref={ref} style={{ position: "absolute", left: 0, top: 0, width: 720, height: 631 }} />;
}
